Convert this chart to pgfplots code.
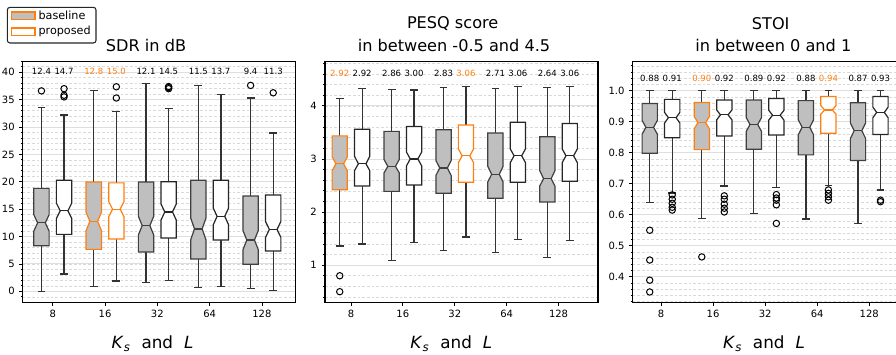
\documentclass[border=0pt]{standalone}
\usepackage{pgfplots}
\pgfplotsset{compat=1.18}
\usepgfplotslibrary{statistics}
\usepackage{fontspec}
\setmainfont{DejaVu Sans}
\definecolor{orng}{RGB}{255,127,14}

\tikzset{ann/.style={font=\fontsize{6.4}{7}\selectfont, inner sep=0pt}}
\pgfplotsset{
  boxplot/notch low/.initial=0,
  boxplot/notch high/.initial=0,
  nbox/.style={
    boxplot/draw direction=y,
    boxplot/box extend=0.293,
    boxplot/whisker extend=0.15,
    boxplot/draw/box/.code={%
      \draw[/pgfplots/boxplot/every box/.try]
        (boxplot box cs:\pgfplotsboxplotvalue{lower quartile},0) --
        (boxplot box cs:\pgfplotsboxplotvalue{notch low},0) --
        (boxplot box cs:\pgfplotsboxplotvalue{median},0.25) --
        (boxplot box cs:\pgfplotsboxplotvalue{notch high},0) --
        (boxplot box cs:\pgfplotsboxplotvalue{upper quartile},0) --
        (boxplot box cs:\pgfplotsboxplotvalue{upper quartile},1) --
        (boxplot box cs:\pgfplotsboxplotvalue{notch high},1) --
        (boxplot box cs:\pgfplotsboxplotvalue{median},0.75) --
        (boxplot box cs:\pgfplotsboxplotvalue{notch low},1) --
        (boxplot box cs:\pgfplotsboxplotvalue{lower quartile},1) -- cycle;
    },
    boxplot/draw/median/.code={%
      \draw[/pgfplots/boxplot/every median/.try]
        (boxplot box cs:\pgfplotsboxplotvalue{median},0.25) --
        (boxplot box cs:\pgfplotsboxplotvalue{median},0.75);
    },
    boxplot/every whisker/.style={draw=black!80},
    line width=0.9pt,
    mark=o, mark size=2.4pt,
    mark options={draw=black, fill=none, line width=0.75pt, solid},
  },
  base/.style={nbox, draw=black!75, boxplot/every box/.style={fill=black!25}},
  prop/.style={nbox, draw=black!85, boxplot/every box/.style={fill=white}},
  panel/.style={
    scale only axis, width=204.75pt, height=180.75pt, anchor=north west,
    xtick={0,1,2,3,4}, xticklabels={8,16,32,64,128},
    xtick pos=bottom, ytick pos=left, tick align=outside,
    major tick length=2.6pt, minor tick length=1.5pt,
    tick style={black, line width=0.6pt},
    minor x tick num=0,
    axis line style={line width=0.8pt, black},
    ymajorgrids, yminorgrids,
    major grid style={solid, black!13, line width=0.7pt},
    minor grid style={black!15, line width=0.45pt, dash pattern=on 2pt off 1.5pt},
    ticklabel style={font=\fontsize{7.5}{8}\selectfont},
    /pgf/number format/assume math mode=true,
    scaled y ticks=false,
  },
}

\begin{document}
\begin{tikzpicture}
\useasboundingbox (0,0) rectangle (672pt,265.5pt);
\clip (0,0) rectangle (672pt,265.5pt);

% ---------------- SDR ----------------
\begin{axis}[panel, at={(17.1pt,219.525pt)},
  xmin=-0.573, xmax=4.648, ymin=-2, ymax=42,
  ytick={0,5,...,40}, minor ytick={-1,0,...,42}]
\addplot[base, boxplot prepared={draw position=-0.216, lower whisker=0, lower quartile=8.33, median=12.5, upper quartile=18.8, upper whisker=33.6, notch low=11.0, notch high=14.0}] table[row sep=\\,y index=0]{v\\36.6\\};
\addplot[prop, boxplot prepared={draw position=0.216, lower whisker=3.16, lower quartile=10.4, median=14.7, upper quartile=20.3, upper whisker=32.2, notch low=13.3, notch high=16.1}] table[row sep=\\,y index=0]{v\\37.0\\35.8\\35.5\\};
\addplot[base, draw=orng, boxplot prepared={draw position=0.784, lower whisker=0.91, lower quartile=7.66, median=12.8, upper quartile=19.95, upper whisker=36.7, notch low=11.1, notch high=14.4}] coordinates {};
\addplot[prop, draw=orng, boxplot prepared={draw position=1.216, lower whisker=1.89, lower quartile=9.55, median=15.0, upper quartile=19.8, upper whisker=32.8, notch low=13.6, notch high=16.4}] table[row sep=\\,y index=0]{v\\37.35\\35.3\\};
\addplot[base, boxplot prepared={draw position=1.784, lower whisker=1.58, lower quartile=7.18, median=12.0, upper quartile=19.95, upper whisker=37.9, notch low=10.3, notch high=13.7}] coordinates {};
\addplot[prop, boxplot prepared={draw position=2.216, lower whisker=1.95, lower quartile=9.73, median=14.5, upper quartile=20.0, upper whisker=33.4, notch low=13.0, notch high=15.95}] table[row sep=\\,y index=0]{v\\37.4\\37.2\\37.0\\};
\addplot[base, boxplot prepared={draw position=2.784, lower whisker=0.67, lower quartile=5.9, median=11.4, upper quartile=20.3, upper whisker=37.6, notch low=9.4, notch high=13.4}] coordinates {};
\addplot[prop, boxplot prepared={draw position=3.216, lower whisker=0.85, lower quartile=9.37, median=13.7, upper quartile=20.3, upper whisker=35.95, notch low=12.15, notch high=15.2}] coordinates {};
\addplot[base, boxplot prepared={draw position=3.784, lower whisker=0.55, lower quartile=4.93, median=9.37, upper quartile=17.4, upper whisker=35.3, notch low=7.6, notch high=11.1}] table[row sep=\\,y index=0]{v\\37.6\\};
\addplot[prop, boxplot prepared={draw position=4.216, lower whisker=0.12, lower quartile=7.36, median=11.3, upper quartile=17.6, upper whisker=28.9, notch low=9.85, notch high=12.75}] table[row sep=\\,y index=0]{v\\36.25\\};
\node[ann] at (axis cs:-0.216,40.1) {12.4};
\node[ann] at (axis cs:0.216,40.1) {14.7};
\node[ann, text=orng] at (axis cs:0.784,40.1) {12.8};
\node[ann, text=orng] at (axis cs:1.216,40.1) {15.0};
\node[ann] at (axis cs:1.784,40.1) {12.1};
\node[ann] at (axis cs:2.216,40.1) {14.5};
\node[ann] at (axis cs:2.784,40.1) {11.5};
\node[ann] at (axis cs:3.216,40.1) {13.7};
\node[ann] at (axis cs:3.784,40.1) {9.4};
\node[ann] at (axis cs:4.216,40.1) {11.3};
\end{axis}

% ---------------- PESQ ----------------
\begin{axis}[panel, at={(243.75pt,219.525pt)},
  xmin=-0.50, xmax=4.76, ymin=0.30, ymax=4.84,
  ytick={1,2,3,4}, minor ytick={0.4,0.6,...,4.81}]
\addplot[base, draw=orng, boxplot prepared={draw position=-0.216, lower whisker=1.36, lower quartile=2.42, median=2.91, upper quartile=3.435, upper whisker=4.14, notch low=2.78, notch high=3.04}] table[row sep=\\,y index=0]{v\\0.80\\0.50\\};
\addplot[prop, boxplot prepared={draw position=0.216, lower whisker=1.40, lower quartile=2.49, median=2.91, upper quartile=3.56, upper whisker=4.33, notch low=2.78, notch high=3.05}] coordinates {};
\addplot[base, boxplot prepared={draw position=0.784, lower whisker=1.09, lower quartile=2.39, median=2.86, upper quartile=3.52, upper whisker=4.31, notch low=2.74, notch high=2.99}] coordinates {};
\addplot[prop, boxplot prepared={draw position=1.216, lower whisker=1.43, lower quartile=2.51, median=3.00, upper quartile=3.61, upper whisker=4.30, notch low=2.87, notch high=3.13}] coordinates {};
\addplot[base, boxplot prepared={draw position=1.784, lower whisker=1.27, lower quartile=2.355, median=2.83, upper quartile=3.55, upper whisker=4.34, notch low=2.69, notch high=2.97}] coordinates {};
\addplot[prop, draw=orng, boxplot prepared={draw position=2.216, lower whisker=1.53, lower quartile=2.56, median=3.06, upper quartile=3.64, upper whisker=4.36, notch low=2.93, notch high=3.19}] coordinates {};
\addplot[base, boxplot prepared={draw position=2.784, lower whisker=1.24, lower quartile=2.26, median=2.71, upper quartile=3.49, upper whisker=4.33, notch low=2.57, notch high=2.86}] coordinates {};
\addplot[prop, boxplot prepared={draw position=3.216, lower whisker=1.48, lower quartile=2.56, median=3.06, upper quartile=3.69, upper whisker=4.37, notch low=2.93, notch high=3.19}] coordinates {};
\addplot[base, boxplot prepared={draw position=3.784, lower whisker=1.15, lower quartile=2.19, median=2.63, upper quartile=3.42, upper whisker=4.345, notch low=2.49, notch high=2.78}] coordinates {};
\addplot[prop, boxplot prepared={draw position=4.216, lower whisker=1.46, lower quartile=2.58, median=3.06, upper quartile=3.67, upper whisker=4.36, notch low=2.93, notch high=3.19}] coordinates {};
\node[ann, text=orng] at (axis cs:-0.216,4.61) {2.92};
\node[ann] at (axis cs:0.216,4.61) {2.92};
\node[ann] at (axis cs:0.784,4.61) {2.86};
\node[ann] at (axis cs:1.216,4.61) {3.00};
\node[ann] at (axis cs:1.784,4.61) {2.83};
\node[ann, text=orng] at (axis cs:2.216,4.61) {3.06};
\node[ann] at (axis cs:2.784,4.61) {2.71};
\node[ann] at (axis cs:3.216,4.61) {3.06};
\node[ann] at (axis cs:3.784,4.61) {2.64};
\node[ann] at (axis cs:4.216,4.61) {3.06};
\end{axis}

% ---------------- STOI ----------------
\begin{axis}[panel, at={(474.525pt,219.525pt)},
  xmin=-0.543, xmax=4.70, ymin=0.3177, ymax=1.0948,
  ytick={0.4,0.5,0.6,0.7,0.8,0.9,1.0}, minor ytick={0.32,0.34,...,1.09},
  yticklabel style={/pgf/number format/.cd, fixed, fixed zerofill, precision=1}]
\addplot[base, boxplot prepared={draw position=-0.216, lower whisker=0.639, lower quartile=0.798, median=0.882, upper quartile=0.959, upper whisker=1.0, notch low=0.860, notch high=0.904}] table[row sep=\\,y index=0]{v\\0.55\\0.454\\0.389\\0.351\\};
\addplot[prop, boxplot prepared={draw position=0.216, lower whisker=0.67, lower quartile=0.848, median=0.913, upper quartile=0.972, upper whisker=1.0, notch low=0.896, notch high=0.930}] table[row sep=\\,y index=0]{v\\0.664\\0.650\\0.637\\0.624\\0.615\\};
\addplot[base, draw=orng, boxplot prepared={draw position=0.784, lower whisker=0.588, lower quartile=0.81, median=0.897, upper quartile=0.962, upper whisker=1.0, notch low=0.877, notch high=0.917}] table[row sep=\\,y index=0]{v\\0.464\\};
\addplot[prop, boxplot prepared={draw position=1.216, lower whisker=0.693, lower quartile=0.854, median=0.922, upper quartile=0.970, upper whisker=1.0, notch low=0.906, notch high=0.938}] table[row sep=\\,y index=0]{v\\0.661\\0.650\\0.634\\0.621\\0.609\\};
\addplot[base, boxplot prepared={draw position=1.784, lower whisker=0.603, lower quartile=0.811, median=0.891, upper quartile=0.970, upper whisker=1.0, notch low=0.869, notch high=0.913}] coordinates {};
\addplot[prop, boxplot prepared={draw position=2.216, lower whisker=0.688, lower quartile=0.857, median=0.921, upper quartile=0.975, upper whisker=1.0, notch low=0.905, notch high=0.937}] table[row sep=\\,y index=0]{v\\0.665\\0.654\\0.647\\0.632\\0.572\\};
\addplot[base, boxplot prepared={draw position=2.784, lower whisker=0.586, lower quartile=0.793, median=0.882, upper quartile=0.968, upper whisker=1.0, notch low=0.858, notch high=0.906}] coordinates {};
\addplot[prop, draw=orng, boxplot prepared={draw position=3.216, lower whisker=0.694, lower quartile=0.863, median=0.938, upper quartile=0.981, upper whisker=1.0, notch low=0.924, notch high=0.952}] table[row sep=\\,y index=0]{v\\0.680\\0.669\\0.658\\0.647\\};
\addplot[base, boxplot prepared={draw position=3.784, lower whisker=0.572, lower quartile=0.775, median=0.871, upper quartile=0.961, upper whisker=1.0, notch low=0.846, notch high=0.896}] coordinates {};
\addplot[prop, boxplot prepared={draw position=4.216, lower whisker=0.680, lower quartile=0.859, median=0.930, upper quartile=0.981, upper whisker=1.0, notch low=0.913, notch high=0.947}] table[row sep=\\,y index=0]{v\\0.647\\0.642\\};
\node[ann] at (axis cs:-0.216,1.039) {0.88};
\node[ann] at (axis cs:0.216,1.039) {0.91};
\node[ann, text=orng] at (axis cs:0.784,1.039) {0.90};
\node[ann] at (axis cs:1.216,1.039) {0.92};
\node[ann] at (axis cs:1.784,1.039) {0.89};
\node[ann] at (axis cs:2.216,1.039) {0.92};
\node[ann] at (axis cs:2.784,1.039) {0.88};
\node[ann, text=orng] at (axis cs:3.216,1.039) {0.94};
\node[ann] at (axis cs:3.784,1.039) {0.87};
\node[ann] at (axis cs:4.216,1.039) {0.93};
\end{axis}

% titles
\node[font=\fontsize{12.1}{14}\selectfont] at (109.5pt,231.75pt) {SDR in dB};
\node[font=\fontsize{12.1}{14}\selectfont] at (339.5pt,248pt) {PESQ score};
\node[font=\fontsize{12.1}{14}\selectfont] at (340.5pt,231.75pt) {in between -0.5 and 4.5};
\node[font=\fontsize{12.1}{14}\selectfont] at (578pt,248pt) {STOI};
\node[font=\fontsize{12.1}{14}\selectfont] at (580pt,231.75pt) {in between 0 and 1};

% x labels
\foreach \xx in {114.4pt,338.5pt,573pt}{
  \node[font=\fontsize{12.6}{14}\selectfont] at (\xx,7.6pt) {\textit{K}\textsubscript{\textit{s}}\hspace{0.65em}and\hspace{0.65em}\textit{L}};
}

% legend
\draw[black!85, line width=0.8pt, rounded corners=2pt, fill=white] (5.5pt,233.25pt) rectangle (72pt,260pt);
\draw[orng, line width=1pt, fill=black!25] (8.8pt,251pt) rectangle (26.25pt,256.5pt);
\draw[orng, line width=1pt, fill=white] (8.8pt,239pt) rectangle (26.25pt,244.5pt);
\node[anchor=west, inner sep=0pt, font=\fontsize{8.4}{9}\selectfont] at (28.7pt,253.7pt) {baseline};
\node[anchor=west, inner sep=0pt, font=\fontsize{8.4}{9}\selectfont] at (28.7pt,241.7pt) {proposed};
\end{tikzpicture}
\end{document}
